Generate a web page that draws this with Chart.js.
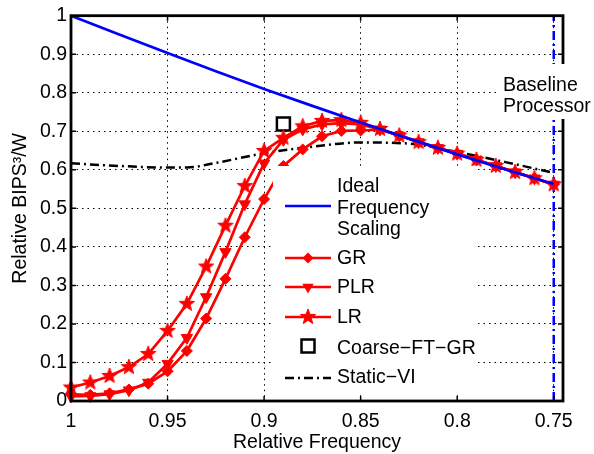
<!DOCTYPE html>
<html>
<head>
<meta charset="utf-8">
<script src="https://cdn.jsdelivr.net/npm/chart.js@4.4.0/dist/chart.umd.min.js"></script>
<style>
    body { margin: 0; background: #fff; }
    canvas { display: block; }
</style>
</head>
<body>
<canvas id="ChartBips" width="594" height="454"></canvas>
<script>
// values
var freq = [1.00, 0.99, 0.98, 0.97, 0.96, 0.95, 0.94, 0.93, 0.92, 0.91, 0.90, 0.89, 0.88,
            0.87, 0.86, 0.85, 0.84, 0.83, 0.82, 0.81, 0.80, 0.79, 0.78, 0.77, 0.76, 0.75];
var grValues = [0.017, 0.016, 0.020, 0.030, 0.045, 0.077, 0.130, 0.214, 0.317, 0.425, 0.524, 0.610, 0.653,
                0.687, 0.701, 0.702, 0.704, 0.689, 0.672, 0.657, 0.642, 0.626, 0.610, 0.594, 0.578, 0.562];
var plrValues = [0.012, 0.013, 0.018, 0.028, 0.048, 0.097, 0.164, 0.270, 0.387, 0.511, 0.617, 0.678, 0.705,
                 0.718, 0.721, 0.718, 0.705, 0.689, 0.672, 0.657, 0.642, 0.626, 0.610, 0.594, 0.578, 0.562];
var lrValues = [0.035, 0.048, 0.065, 0.088, 0.122, 0.182, 0.252, 0.349, 0.455, 0.558, 0.649, 0.683, 0.713,
                0.727, 0.729, 0.722, 0.706, 0.689, 0.672, 0.657, 0.642, 0.626, 0.610, 0.594, 0.578, 0.562];

var idealFreq = [1.00, 0.975, 0.95, 0.925, 0.90, 0.875, 0.85, 0.825, 0.80, 0.775, 0.75];
var idealValues = [1.000, 0.951, 0.903, 0.856, 0.810, 0.766, 0.723, 0.681, 0.640, 0.601, 0.563];

var coarseFreq = [0.89];
var coarseValues = [0.719];

var staticFreq = [1.00, 0.975, 0.95, 0.94, 0.925, 0.90, 0.875, 0.85, 0.825, 0.80, 0.775, 0.75];
var staticValues = [0.617, 0.610, 0.606, 0.606, 0.618, 0.643, 0.660, 0.671, 0.668, 0.646, 0.620, 0.592];

var baselineFreq = [0.75, 0.75];
var baselineValues = [0, 1];

var xTicks = [1, 0.95, 0.9, 0.85, 0.8, 0.75];
var seriesNames = ['Ideal Frequency Scaling', 'GR', 'PLR', 'LR', 'Coarse\u2212FT\u2212GR', 'Static\u2212VI'];
var baselineLabel = ['Baseline', 'Processor'];

var FONT = "'Liberation Sans', Arial, Helvetica, sans-serif";
var FONT_SIZE = 19.5;
var RED = '#ff0000';
var BLUE = '#0000ff';

Chart.defaults.font.family = FONT;
Chart.defaults.color = '#000';

function ToPoints(xs, ys) {
    var points = [];
    var index = 0;
    while (index < xs.length) {
        points.push({ x: xs[index], y: ys[index] });
        index++;
    }
    return points;
}

function MakeStar(r) {
    var c = document.createElement('canvas');
    var size = Math.ceil(r * 2 + 4);
    c.width = size;
    c.height = size;
    var g = c.getContext('2d');
    g.beginPath();
    for (var i = 0; i < 10; i++) {
        var rad = i % 2 === 0 ? r : r * 0.42;
        var a = -Math.PI / 2 + i * Math.PI / 5;
        g.lineTo(size / 2 + rad * Math.cos(a), size / 2 + rad * Math.sin(a));
    }
    g.closePath();
    g.fillStyle = RED;
    g.fill();
    g.strokeStyle = RED;
    g.lineWidth = 1;
    g.stroke();
    return c;
}

var starImg = MakeStar(8);

function DrawDiamond(ctx, x, y, r) {
    ctx.beginPath();
    ctx.moveTo(x, y - r);
    ctx.lineTo(x + r, y);
    ctx.lineTo(x, y + r);
    ctx.lineTo(x - r, y);
    ctx.closePath();
    ctx.fill();
}

function DrawTriangleDown(ctx, x, y, r) {
    ctx.beginPath();
    ctx.moveTo(x - r * 0.87, y - r * 0.5);
    ctx.lineTo(x + r * 0.87, y - r * 0.5);
    ctx.lineTo(x, y + r);
    ctx.closePath();
    ctx.fill();
}

// box, inner ticks, legend and the baseline note
var axesDecor = {
    id: 'axesDecor',
    afterDatasetsDraw: function (chart) {
        var ctx = chart.ctx;
        var a = chart.chartArea;
        var xs = chart.scales.x;
        var ys = chart.scales.y;
        var tick = 5;
        ctx.save();
        ctx.strokeStyle = '#000';
        ctx.lineWidth = 1.5;
        ctx.beginPath();
        xTicks.forEach(function (v) {
            var px = xs.getPixelForValue(v);
            ctx.moveTo(px, a.bottom); ctx.lineTo(px, a.bottom - tick);
            ctx.moveTo(px, a.top); ctx.lineTo(px, a.top + tick);
        });
        ys.ticks.forEach(function (t) {
            var py = ys.getPixelForValue(t.value);
            ctx.moveTo(a.left, py); ctx.lineTo(a.left + tick, py);
            ctx.moveTo(a.right, py); ctx.lineTo(a.right - tick, py);
        });
        ctx.stroke();
        ctx.lineWidth = 2.8;
        ctx.strokeRect(a.left, a.top, a.right - a.left, a.bottom - a.top);

        // baseline note with white background
        ctx.fillStyle = '#fff';
        ctx.fillRect(498, 64, 96, 55);
        ctx.fillStyle = '#000';
        ctx.font = FONT_SIZE + 'px ' + FONT;
        ctx.textBaseline = 'middle';
        ctx.textAlign = 'left';
        ctx.fillText(baselineLabel[0], 503, 86);
        ctx.fillText(baselineLabel[1], 503, 107);

        // legend
        ctx.fillStyle = '#fff';
        ctx.fillRect(273, 166, 205, 226);
        var lx0 = 285, lx1 = 331, mx = 308, tx = 337;
        var ds = chart.data.datasets;

        ctx.fillStyle = '#000';
        var words = ds[0].label.split(' ');
        words.forEach(function (w, i) {
            ctx.fillText(w, tx, 187 + i * 21.5);
        });
        ctx.strokeStyle = ds[0].borderColor;
        ctx.lineWidth = 2.5;
        ctx.beginPath(); ctx.moveTo(lx0, 206); ctx.lineTo(lx1, 206); ctx.stroke();

        var rows = [258, 287, 317];
        rows.forEach(function (ry, i) {
            ctx.strokeStyle = RED;
            ctx.lineWidth = 2.5;
            ctx.beginPath(); ctx.moveTo(lx0, ry); ctx.lineTo(lx1, ry); ctx.stroke();
            ctx.fillStyle = RED;
            if (i === 0) DrawDiamond(ctx, mx, ry, 5.5);
            else if (i === 1) DrawTriangleDown(ctx, mx, ry, 6.5);
            else ctx.drawImage(starImg, mx - starImg.width / 2, ry - starImg.height / 2);
            ctx.fillStyle = '#000';
            ctx.fillText(ds[i + 1].label, tx, ry + 1);
        });

        ctx.strokeStyle = '#000';
        ctx.lineWidth = 2.5;
        ctx.strokeRect(mx - 6.5, 346 - 6.5, 13, 13);
        ctx.fillText(ds[4].label, tx, 349);

        ctx.setLineDash([9, 4, 2, 4]);
        ctx.beginPath(); ctx.moveTo(lx0, 378); ctx.lineTo(lx1, 378); ctx.stroke();
        ctx.setLineDash([]);
        ctx.fillText(ds[5].label, tx, 378);
        ctx.restore();
    }
};

var ctx = document.getElementById('ChartBips').getContext('2d');

var graph = new Chart(ctx, {
    type: 'line',
    data: {
        datasets: [
            {
                label: seriesNames[0],
                data: ToPoints(idealFreq, idealValues),
                borderColor: BLUE,
                borderWidth: 2.7,
                pointRadius: 0,
                clip: false
            },
            {
                label: seriesNames[1],
                data: ToPoints(freq, grValues),
                borderColor: RED,
                backgroundColor: RED,
                borderWidth: 2.7,
                pointStyle: 'rectRot',
                pointRadius: 5.5,
                pointBorderWidth: 1,
                clip: false
            },
            {
                label: seriesNames[2],
                data: ToPoints(freq, plrValues),
                borderColor: RED,
                backgroundColor: RED,
                borderWidth: 2.7,
                pointStyle: 'triangle',
                pointRotation: 180,
                pointRadius: 6.5,
                pointBorderWidth: 1,
                clip: false
            },
            {
                label: seriesNames[3],
                data: ToPoints(freq, lrValues),
                borderColor: RED,
                backgroundColor: RED,
                borderWidth: 2.7,
                pointStyle: starImg,
                clip: false
            },
            {
                label: seriesNames[4],
                data: ToPoints(coarseFreq, coarseValues),
                borderColor: '#000',
                backgroundColor: 'rgba(0,0,0,0)',
                showLine: false,
                pointStyle: 'rect',
                pointRadius: 9.2,
                pointBorderWidth: 2.5,
                clip: false
            },
            {
                label: seriesNames[5],
                data: ToPoints(staticFreq, staticValues),
                borderColor: '#000',
                borderWidth: 2.5,
                borderDash: [9, 4, 2, 4],
                pointRadius: 0,
                cubicInterpolationMode: 'monotone',
                clip: false
            },
            {
                label: 'Baseline',
                data: ToPoints(baselineFreq, baselineValues),
                borderColor: BLUE,
                borderWidth: 2.5,
                borderDash: [9, 4, 2, 4],
                pointRadius: 0
            }
        ]
    },
    options: {
        responsive: false,
        animation: false,
        devicePixelRatio: 1,
        layout: { padding: { top: 14, right: 31, left: 0, bottom: 0 } },
        plugins: {
            legend: { display: false },
            tooltip: { enabled: false }
        },
        scales: {
            x: {
                type: 'linear',
                reverse: true,
                min: 0.7452,
                max: 1,
                afterBuildTicks: function (scale) {
                    scale.ticks = xTicks.map(function (v) { return { value: v }; });
                },
                afterFit: function (scale) { scale.height = 53; },
                ticks: {
                    padding: 9,
                    font: { size: FONT_SIZE },
                    autoSkip: false,
                    maxRotation: 0,
                    callback: function (v) { return String(+v.toFixed(2)); }
                },
                grid: { color: '#000', lineWidth: 1, drawTicks: false },
                border: { display: false, dash: [1.5, 4] },
                title: {
                    display: true,
                    text: 'Relative Frequency',
                    font: { size: FONT_SIZE },
                    padding: { top: 0, bottom: 0 }
                }
            },
            y: {
                min: 0,
                max: 1,
                afterFit: function (scale) { scale.width = 71; },
                ticks: {
                    stepSize: 0.1,
                    padding: 4,
                    font: { size: FONT_SIZE },
                    callback: function (v) { return String(+v.toFixed(1)); }
                },
                grid: { color: '#000', lineWidth: 1, drawTicks: false },
                border: { display: false, dash: [1.5, 4] },
                title: {
                    display: true,
                    text: 'Relative BIPS\u00b3/W',
                    font: { size: FONT_SIZE },
                    padding: { top: 9, bottom: 0 }
                }
            }
        }
    },
    plugins: [axesDecor]
});
</script>
</body>
</html>
